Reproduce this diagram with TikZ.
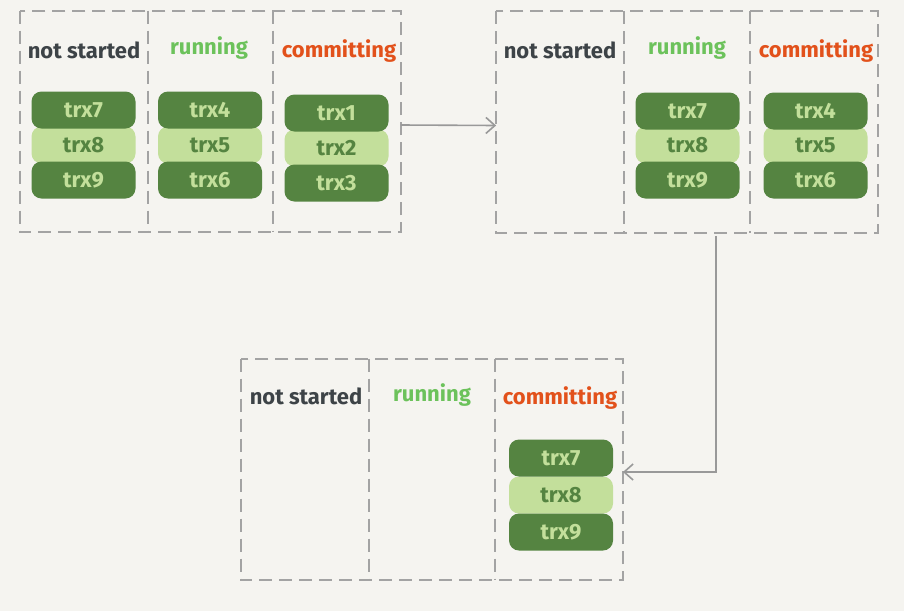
\documentclass[tikz,border=0pt]{standalone}
\usepackage{fontspec}
\setmainfont{Fira Sans}
\usetikzlibrary{arrows.meta,calc}

\definecolor{paper}{HTML}{F5F4F0}
\definecolor{dashgray}{HTML}{A3A3A3}
\definecolor{darkgreen}{HTML}{558441}
\definecolor{lightgreen}{HTML}{C3DF9B}
\definecolor{ink}{HTML}{3D4347}
\definecolor{runcol}{HTML}{6CC25B}
\definecolor{commitcol}{HTML}{E2511B}

\begin{document}
\begin{tikzpicture}[x=0.5pt, y=-0.5pt,
		column/.style={minimum width=63.5pt, minimum height=110.5pt, inner sep=0pt},
		border/.style={draw=dashgray, line width=1pt, dash pattern=on 6.5pt off 3.5pt},
		trxdark/.style={fill=darkgreen, text=lightgreen, rounded corners=5pt,
			minimum width=52pt, minimum height=18.5pt, inner sep=0pt, font=\bfseries\fontsize{11}{12}\selectfont},
		trxlight/.style={trxdark, fill=lightgreen, text=darkgreen},
		state/.style={font=\bfseries\fontsize{11}{13}\selectfont},
		flow/.style={draw=gray!80, line width=0.8pt, -{Straight Barb[length=4.5pt, width=8pt]}}]
		\fill[paper] (0,0) rectangle (904,611);
		\useasboundingbox (0,0) rectangle (904,611);

		% first state
		\node[column] (c11) at (84, 121.5) {};
		\node[column] (c12) at (211, 121.5) {};
		\node[column] (c13) at (337, 121.5) {};
		\draw[border] (c11.north west) rectangle (c13.south east);
		\draw[border] (c11.north east) -- (c11.south east);
		\draw[border] (c13.north west) -- (c13.south west);
		\node[state, text=ink] (l11) at (84, 50) {not started};
		\node[state, text=runcol] (l12) at (209, 48) {running};
		\node[state, text=commitcol] (l13) at (339, 51) {committing};
		\node[trxlight] (t8a) at (83.5, 145) {trx8};
		\node[trxdark] (t7a) at (83.5, 110) {trx7};
		\node[trxdark] (t9a) at (83.5, 180) {trx9};
		\node[trxlight] (t5a) at (210, 145) {trx5};
		\node[trxdark] (t4a) at (210, 110) {trx4};
		\node[trxdark] (t6a) at (210, 180) {trx6};
		\node[trxlight] (t2a) at (336.5, 148) {trx2};
		\node[trxdark] (t1a) at (336.5, 113) {trx1};
		\node[trxdark] (t3a) at (336.5, 183) {trx3};

		% second state
		\node[column] (c21) at (560, 122) {};
		\node[column] (c22) at (687.5, 122) {};
		\node[column] (c23) at (814, 122) {};
		\draw[border] (c21.north west) rectangle (c23.south east);
		\draw[border] (c21.north east) -- (c21.south east);
		\draw[border] (c23.north west) -- (c23.south west);
		\node[state, text=ink] (l21) at (560, 50) {not started};
		\node[state, text=runcol] (l22) at (687, 48) {running};
		\node[state, text=commitcol] (l23) at (816, 51) {committing};
		\node[trxlight] (t8b) at (687.5, 145) {trx8};
		\node[trxdark] (t7b) at (687.5, 111) {trx7};
		\node[trxdark] (t9b) at (687.5, 180) {trx9};
		\node[trxlight] (t5b) at (815.5, 145) {trx5};
		\node[trxdark] (t4b) at (815.5, 111) {trx4};
		\node[trxdark] (t6b) at (815.5, 180) {trx6};

		% third state
		\node[column] (c31) at (305, 469.5) {};
		\node[column] (c32) at (432.5, 469.5) {};
		\node[column] (c33) at (559, 469.5) {};
		\draw[border] (c31.north west) rectangle (c33.south east);
		\draw[border] (c31.north east) -- (c31.south east);
		\draw[border] (c33.north west) -- (c33.south west);
		\node[state, text=ink] (l31) at (306, 396) {not started};
		\node[state, text=runcol] (l32) at (432, 395) {running};
		\node[state, text=commitcol] (l33) at (560, 398) {committing};
		\node[trxlight] (t8c) at (561, 495) {trx8};
		\node[trxdark] (t7c) at (561, 458) {trx7};
		\node[trxdark] (t9c) at (561, 532) {trx9};

		\draw[flow] ($(c13.east)+(0,3.5)$) -- ($(c21.west)+(0,3.5)$);
		\draw[flow] ($(c22.south)+(28.5,3)$) |- ($(c33.east)+(0,2.5)$);
	\end{tikzpicture}
\end{document}
